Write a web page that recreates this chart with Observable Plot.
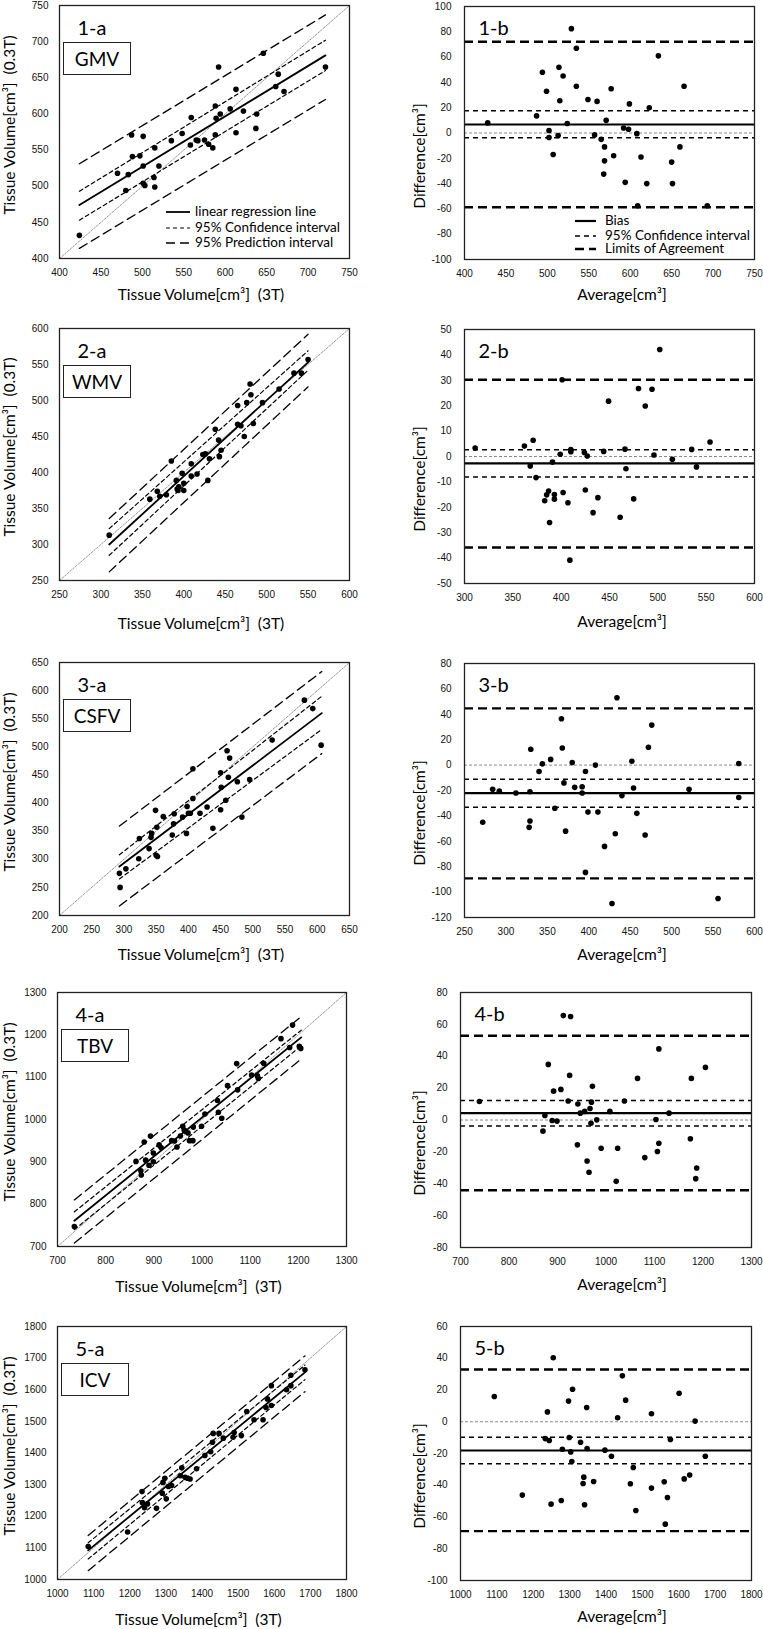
<!DOCTYPE html>
<html><head><meta charset="utf-8">
<script src="https://cdn.jsdelivr.net/npm/d3@7"></script>
<script src="https://cdn.jsdelivr.net/npm/@observablehq/plot@0.6"></script>
<style>
html,body{margin:0;padding:0;background:#fff;}
#root{position:relative;width:763px;height:1629px;overflow:hidden;background:#fff;}
.t{position:absolute;font-family:Lato,sans-serif;white-space:pre;color:#000;transform:translate(-50%,-50%);line-height:1;}
.yt{transform:translate(-50%,-50%) rotate(-90deg);}
.box{position:absolute;border:1.3px solid #222;box-sizing:border-box;font-family:Lato,sans-serif;font-size:19px;display:flex;align-items:center;justify-content:center;background:#fff;}
.lg{position:absolute;font-family:Lato,sans-serif;font-size:13.5px;white-space:pre;line-height:1;transform:translateY(-50%);}
</style>
</head><body><div id="root"></div>
<script>
// ---------- DATA ----------
// 1 GMV
const gmvX = [424,470,480,483,487,488,497,501,501,501,503,515,514,515,520,535,548,559,558,565,567,575,580,585,588,588,589,594,592,606,613,613,622,637,638,646,661,664,671,721];
const gmvY = [432,518,494,516,571,541,542,569,528,504,501,553,512,499,528,563,573,595,557,564,563,564,558,553,611,571,594,600,665,607,574,634,604,580,600,684,638,655,631,665];
const gmvFitX = [424,721], gmvFit = [474,681], gmvCIhi = [493,702], gmvCIlo = [453,660], gmvPIhi = [531,737], gmvPIlo = [414,620];
const gmvAvg = [428,487,494,499,502,502,507,513,514,515,519,524,529,535,535,549,557,560,565,569,569,568,571,577,580,592,594,598,599,608,609,613,620,623,634,650,651,660,665,693];
const gmvDiff = [8,13.5,48,33,2,-3.5,-17,-2,52,25.5,45,7.5,82.5,37,67,26.5,-1.5,25,-5,-11,-22,-32.5,10,35,-18,4,-39,3,23,-0.5,-57.5,-19,-40,20,61,-23,-40,-11,37,-57.5];
const gmvBias = 6.7, gmvCI = [17.5,-3.8], gmvLoA = [72.1,-58.7];
// 2 WMV
const wmvX = [310,359,368,371,379,385,391,392,394,393,398,400,400,409,409,416,423,426,429,431,438,443,445,442,465,465,469,473,476,480,481,484,495,515,533,542,550];
const wmvY = [313,363,374,367,369,416,389,377,380,375,399,385,375,412,395,398,425,426,389,419,460,422,431,445,493,467,465,450,497,523,508,468,497,516,538,538,557];
const wmvFitX = [310,550], wmvFit = [300,553], wmvCIhi = [322,569], wmvCIlo = [285,542], wmvPIhi = [336,592], wmvPIlo = [262,519];
const wmvAvg = [311,362,371,368,374,383,385,387,388,391,393,393,399,401,402,407,409,410,410,424,425,427,433,438,444,449,461,466,467,475,480,487,494,496,502,515,535,540,554];
const wmvDiff = [3.3,4.1,6.4,-3.7,-8.3,-17.4,-15.1,-13.6,-26,-2.2,-15,-16.8,0.9,30.2,-14.2,-18.2,-40.8,2.7,1.9,1.6,-13.2,0.2,-22.1,-16.2,2,21.8,-23.9,2.9,-4.8,-16.7,26.8,19.9,26.5,0.6,42.1,-1.1,2.8,-4.1,5.7];
const wmvBias = -2.7, wmvCI = [2.7,-8.1], wmvLoA = [30.2,-35.8];
// 3 CSFV
const csfX = [293,294,303,323,324,339,342,343,349,351,350,352,361,375,377,378,391,397,398,400,403,407,407,418,429,438,450,450,451,458,460,462,464,476,483,495,530,580,593,606];
const csfY = [275,250,283,301,337,319,339,346,387,357,307,305,376,343,363,381,375,346,394,382,382,408,461,382,393,355,388,454,428,405,493,446,480,438,375,442,512,583,568,503];
const csfFitX = [293,607], csfFit = [287,560], csfCIhi = [308,590], csfCIlo = [265,531], csfPIhi = [359,634], csfPIlo = [217,488];
const csfAvg = [272,284,292,312,329,329,328,330,340,344,354,359,367,368,370,372,380,383,392,392,396,396,399,408,411,419,428,432,434,440,452,454,458,468,472,476,521,556,581,581];
const csfDiff = [-45,-19,-20.5,-22,-21,-44,-49,12.5,-5,1,4.5,-34,36.5,13.5,-14,-52,2,-17.5,-17,-22,-5,-84.5,-37,0,-37,-64,-109,-54,53,-24,3,-18,-38,-55,14,31.5,-19,-105,1.3,-25.5];
const csfBias = -22.1, csfCI = [-11.1,-33.2], csfLoA = [44.7,-89.2];
// 4 TBV
const tbvX = [735,863,873,874,880,883,890,893,899,899,911,915,937,943,948,955,960,963,966,971,974,981,982,999,1006,1032,1034,1041,1053,1072,1074,1103,1115,1117,1128,1164,1182,1188,1202,1205];
const tbvY = [747,901,879,869,947,904,892,961,921,900,940,934,950,949,935,961,984,975,972,968,950,950,982,984,1013,1045,1017,1003,1080,1132,1070,1105,1103,1097,1133,1191,1170,1223,1173,1168];
const tbvFitX = [735,1206], tbvFit = [761,1194], tbvCIhi = [782,1211], tbvCIlo = [740,1174], tbvPIhi = [810,1243], tbvPIlo = [708,1143];
const tbvAvg = [739,870,874,881,889,892,899,907,912,922,925,927,941,942,947,956,961,965,967,969,970,972,981,990,1008,1024,1021,1038,1065,1080,1103,1106,1109,1109,1130,1174,1176,1187,1185,1205];
const tbvDiff = [11.6,-7,2.8,34.9,-0.3,18.1,-0.7,19.2,65.5,11.9,28,64.9,-15.6,10,4.3,5.4,-25.7,-32.8,7.2,-2,11.2,21.1,0.1,-17.7,5.4,-17.7,-38.5,11.9,26.1,-23.6,0.3,-19.8,44.6,-14.6,4.3,-11.8,26.1,-30.1,-36.8,33];
const tbvBias = 4.3, tbvCI = [12.3,-3.7], tbvLoA = [52.9,-44.1];
// 5 ICV
const icvX = [1085,1194,1234,1235,1241,1249,1274,1290,1292,1297,1301,1307,1316,1340,1344,1353,1360,1367,1385,1408,1424,1429,1431,1447,1459,1486,1489,1509,1524,1544,1569,1577,1581,1592,1592,1634,1646,1646,1685];
const icvY = [1104,1150,1278,1243,1227,1239,1225,1273,1307,1320,1255,1294,1297,1328,1353,1323,1320,1318,1350,1392,1404,1434,1462,1462,1447,1450,1465,1455,1531,1505,1505,1544,1571,1613,1550,1600,1646,1613,1663];
const icvFitX = [1085,1685], icvFit = [1092,1655], icvCIhi = [1116,1678], icvCIlo = [1065,1632], icvPIhi = [1139,1707], icvPIlo = [1028,1594];
const icvAvg = [1093,1170,1233,1239,1244,1249,1255,1277,1280,1297,1299,1303,1306,1308,1330,1337,1339,1341,1347,1348,1366,1397,1415,1432,1445,1454,1467,1475,1482,1525,1525,1560,1563,1569,1577,1601,1615,1630,1645,1673];
const icvDiff = [15.9,-46.2,-10.6,6.2,-11.8,-51.9,40.3,-49.6,-17.3,13,-9.9,-19,-25,20.5,-12.9,-38.9,-34.9,-52.3,9,-16.9,-37.6,-17.9,-21.7,2.5,28.9,13.6,-39.1,-28.8,-55.9,5,-41.8,-37.8,-64.5,-47.7,-11.2,18,-36,-33.6,0.4,-21.7];
const icvBias = -18.1, icvCI = [-9.7,-26.5], icvLoA = [32.9,-68.9];

// axes
const labelsA = ["1-a","2-a","3-a","4-a","5-a"];
const labelsB = ["1-b","2-b","3-b","4-b","5-b"];
const names = ["GMV","WMV","CSFV","TBV","ICV"];
const domA = [[400,750],[250,600],[200,650],[700,1300],[1000,1800]];
const stepA = [50,50,50,100,100];
const domBx = [[400,750],[300,600],[250,600],[700,1300],[1000,1800]];
const stepBx = [50,50,50,100,100];
const domBy = [[-100,100],[-50,50],[-120,80],[-80,80],[-100,60]];
const stepBy = [20,10,20,20,20];
const legendA = ["linear regression line","95% Confidence interval","95% Prediction interval"];
const legendB = ["Bias","95% Confidence interval","Limits of Agreement"];
const xTitleA = "Tissue Volume[cm³]  (3T)", yTitleA = "Tissue Volume[cm³]  (0.3T)";
const xTitleB = "Average[cm³]", yTitleB = "Difference[cm³]";

// ---------- LAYOUT ----------
const frames = [
  [[59,349,5,258],[464,754,6,259]],
  [[59,349,328,580],[464,754,329,583]],
  [[59,349,662,915],[464,754,663,917]],
  [[57,346,992,1246],[460,751,992,1247]],
  [[57,346,1326,1579],[460,751,1326,1580]]
];
const xTitleY = [[295,295],[624,622],[955,955],[1287,1285],[1620,1617]];

const root = document.getElementById("root");
const fmt = d => String(d);
const ticksOf = (dom, step) => d3.range(dom[0], dom[1] + step/2, step);

const A = [
  {x:gmvX,y:gmvY,fx:gmvFitX,fit:gmvFit,ciH:gmvCIhi,ciL:gmvCIlo,piH:gmvPIhi,piL:gmvPIlo},
  {x:wmvX,y:wmvY,fx:wmvFitX,fit:wmvFit,ciH:wmvCIhi,ciL:wmvCIlo,piH:wmvPIhi,piL:wmvPIlo},
  {x:csfX,y:csfY,fx:csfFitX,fit:csfFit,ciH:csfCIhi,ciL:csfCIlo,piH:csfPIhi,piL:csfPIlo},
  {x:tbvX,y:tbvY,fx:tbvFitX,fit:tbvFit,ciH:tbvCIhi,ciL:tbvCIlo,piH:tbvPIhi,piL:tbvPIlo},
  {x:icvX,y:icvY,fx:icvFitX,fit:icvFit,ciH:icvCIhi,ciL:icvCIlo,piH:icvPIhi,piL:icvPIlo}
];
const B = [
  {x:gmvAvg,y:gmvDiff,bias:gmvBias,ci:gmvCI,loa:gmvLoA},
  {x:wmvAvg,y:wmvDiff,bias:wmvBias,ci:wmvCI,loa:wmvLoA},
  {x:csfAvg,y:csfDiff,bias:csfBias,ci:csfCI,loa:csfLoA},
  {x:tbvAvg,y:tbvDiff,bias:tbvBias,ci:tbvCI,loa:tbvLoA},
  {x:icvAvg,y:icvDiff,bias:icvBias,ci:icvCI,loa:icvLoA}
];

const STY = {fontFamily:"'Liberation Sans', Arial, sans-serif", fontSize:"10px", background:"transparent", overflow:"visible", color:"#111"};

function place(svg, left, top) {
  svg.style.position = "absolute";
  svg.style.left = left + "px";
  svg.style.top = top + "px";
  root.appendChild(svg);
}
function addText(cls, txt, cx, cy, size) {
  const d = document.createElement("div");
  d.className = cls; d.textContent = txt;
  d.style.left = cx + "px"; d.style.top = cy + "px"; d.style.fontSize = size + "px";
  root.appendChild(d);
}
function addLegend(items, styles, sx0, sx1, tx, ys) {
  items.forEach((txt, i) => {
    const s = styles[i];
    const sv = document.createElementNS("http://www.w3.org/2000/svg", "svg");
    sv.setAttribute("width", sx1 - sx0); sv.setAttribute("height", 6);
    sv.style.position = "absolute"; sv.style.left = sx0 + "px"; sv.style.top = (ys[i] - 3) + "px";
    const ln = document.createElementNS("http://www.w3.org/2000/svg", "line");
    ln.setAttribute("x1", 0); ln.setAttribute("x2", sx1 - sx0); ln.setAttribute("y1", 3); ln.setAttribute("y2", 3);
    ln.setAttribute("stroke", "#000"); ln.setAttribute("stroke-width", s.w);
    if (s.dash) ln.setAttribute("stroke-dasharray", s.dash);
    sv.appendChild(ln); root.appendChild(sv);
    const d = document.createElement("div");
    d.className = "lg"; d.textContent = txt;
    d.style.left = tx + "px"; d.style.top = ys[i] + "px";
    root.appendChild(d);
  });
}

const dashCI = "4,3", dashPI = "9,5", dashBCI = "5,4", dashLoA = "9,5";

for (let r = 0; r < 5; r++) {
  // ----- a panel -----
  {
    const [x0, x1, y0, y1] = frames[r][0];
    const p = A[r];
    const mL = 52, mR = 6, mT = 10, mB = 28;
    const dom = domA[r];
    const tk = ticksOf(dom, stepA[r]);
    const pts = p.x.map((v, i) => ({x: v, y: p.y[i]}));
    const seg = ys => [{x: p.fx[0], y: ys[0]}, {x: p.fx[1], y: ys[1]}];
    const svg = Plot.plot({
      width: x1 - x0 + mL + mR, height: y1 - y0 + mT + mB,
      marginLeft: mL, marginRight: mR, marginTop: mT, marginBottom: mB,
      style: STY,
      x: {domain: dom, ticks: tk, tickFormat: fmt, tickSize: 0, tickPadding: 10, label: null},
      y: {domain: dom, ticks: tk, tickFormat: fmt, tickSize: 0, tickPadding: 11, label: null},
      marks: [
        Plot.line([{x: dom[0], y: dom[0]}, {x: dom[1], y: dom[1]}], {x: "x", y: "y", stroke: "#8a8a8a", strokeWidth: 0.9, strokeDasharray: "2,1.5"}),
        Plot.line(seg(p.piH), {x: "x", y: "y", stroke: "#000", strokeWidth: 1.3, strokeDasharray: dashPI}),
        Plot.line(seg(p.piL), {x: "x", y: "y", stroke: "#000", strokeWidth: 1.3, strokeDasharray: dashPI}),
        Plot.line(seg(p.ciH), {x: "x", y: "y", stroke: "#000", strokeWidth: 1.2, strokeDasharray: dashCI}),
        Plot.line(seg(p.ciL), {x: "x", y: "y", stroke: "#000", strokeWidth: 1.2, strokeDasharray: dashCI}),
        Plot.line(seg(p.fit), {x: "x", y: "y", stroke: "#000", strokeWidth: 1.8}),
        Plot.dot(pts, {x: "x", y: "y", r: 2.8, fill: "#000", stroke: "none"}),
        Plot.frame({stroke: "#222", strokeWidth: 1.3}),
        Plot.text([labelsA[r]], {frameAnchor: "top-left", dx: 18, dy: 23, text: d => d, fontSize: 20, fontFamily: "Lato, sans-serif", textAnchor: "start", lineAnchor: "middle", fill: "#000"})
      ]
    });
    place(svg, x0 - mL, y0 - mT);
    const bx = document.createElement("div");
    bx.className = "box"; bx.textContent = names[r];
    bx.style.left = (x0 + 4) + "px"; bx.style.top = (y0 + 37) + "px";
    bx.style.width = "68px"; bx.style.height = "33px";
    root.appendChild(bx);
    addText("t", xTitleA, (x0 + x1) / 2 - 3, xTitleY[r][0], 15.5);
    addText("t yt", yTitleA, 10, (y0 + y1) / 2 - 7, 15.5);
  }
  // ----- b panel -----
  {
    const [x0, x1, y0, y1] = frames[r][1];
    const p = B[r];
    const mL = 60, mR = 6, mT = 10, mB = 28;
    const pts = p.x.map((v, i) => ({x: v, y: p.y[i]}));
    const svg = Plot.plot({
      width: x1 - x0 + mL + mR, height: y1 - y0 + mT + mB,
      marginLeft: mL, marginRight: mR, marginTop: mT, marginBottom: mB,
      style: STY,
      x: {domain: domBx[r], ticks: ticksOf(domBx[r], stepBx[r]), tickFormat: fmt, tickSize: 0, tickPadding: 10, label: null},
      y: {domain: domBy[r], ticks: ticksOf(domBy[r], stepBy[r]), tickFormat: fmt, tickSize: 0, tickPadding: 13, label: null},
      marks: [
        Plot.ruleY([0], {stroke: "#8a8a8a", strokeWidth: 1, strokeDasharray: "3,2"}),
        Plot.ruleY(p.ci, {stroke: "#000", strokeWidth: 1.5, strokeDasharray: dashBCI}),
        Plot.ruleY(p.loa, {stroke: "#000", strokeWidth: 2.4, strokeDasharray: dashLoA}),
        Plot.ruleY([p.bias], {stroke: "#000", strokeWidth: 2.2}),
        Plot.dot(pts, {x: "x", y: "y", r: 2.8, fill: "#000", stroke: "none"}),
        Plot.frame({stroke: "#222", strokeWidth: 1.3}),
        Plot.text([labelsB[r]], {frameAnchor: "top-left", dx: 14, dy: 22, text: d => d, fontSize: 20, fontFamily: "Lato, sans-serif", textAnchor: "start", lineAnchor: "middle", fill: "#000"})
      ]
    });
    place(svg, x0 - mL, y0 - mT);
    addText("t", xTitleB, 622, xTitleY[r][1], 15.5);
    addText("t yt", yTitleB, 420, (y0 + y1) / 2 + 23, 15.5);
  }
}

// legends (panel 1 only)
addLegend(legendA, [{w: 1.8}, {w: 1.2, dash: dashCI}, {w: 1.3, dash: dashPI}], 166, 190, 195, [212, 228, 243]);
addLegend(legendB, [{w: 2.2}, {w: 1.5, dash: dashBCI}, {w: 2.4, dash: dashLoA}], 575, 596, 605, [221, 236, 249]);
</script>
</body></html>
